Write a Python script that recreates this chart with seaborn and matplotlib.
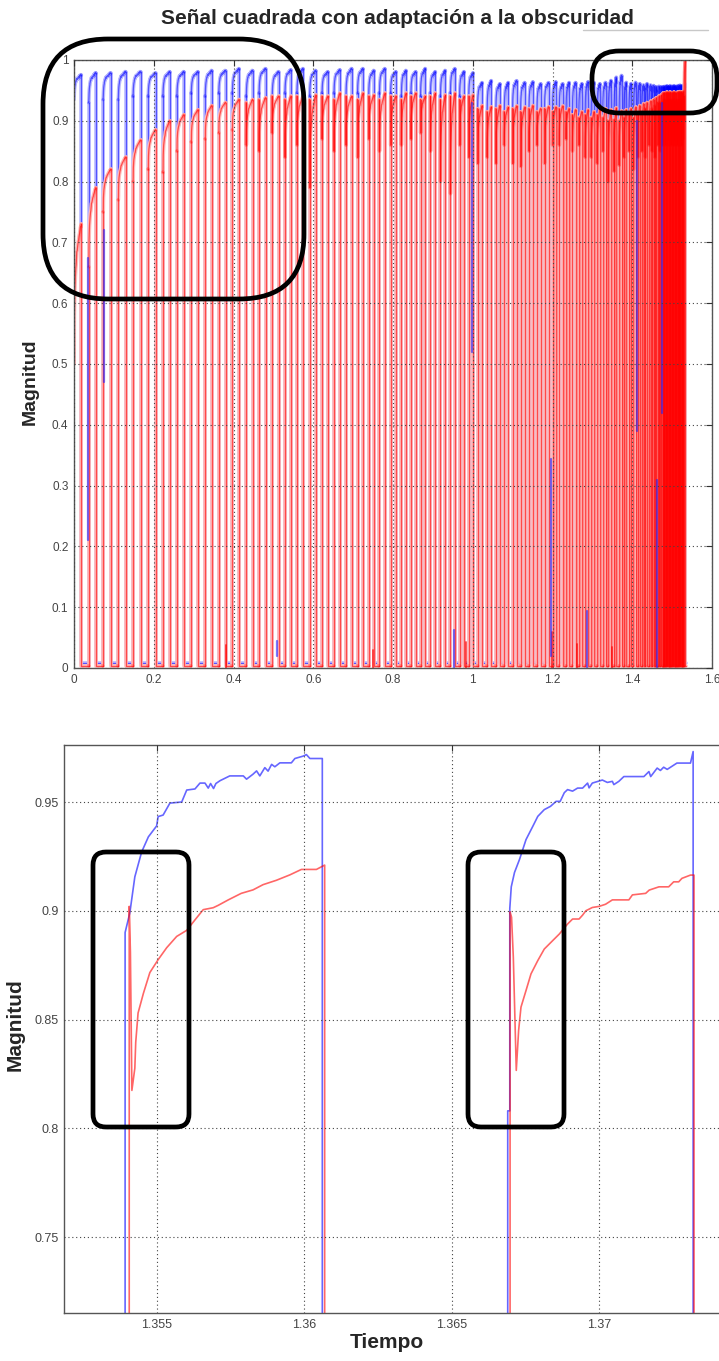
import numpy as np
import pandas as pd
import matplotlib
matplotlib.use("Agg")
import matplotlib.pyplot as plt
import seaborn as sns
from matplotlib.patches import FancyBboxPatch
from matplotlib.lines import Line2D

# ===================== DATOS =====================
# ---- Panel superior: un registro por pulso de la señal cuadrada ----
inicio_pulsos = [
    0.000, 0.037, 0.073, 0.111, 0.148, 0.186, 0.223, 0.258, 0.294, 0.329, 0.363, 0.397,
    0.432, 0.464, 0.497, 0.529, 0.559, 0.591, 0.622, 0.652, 0.682, 0.711, 0.739, 0.766, 0.794,
    0.821, 0.845, 0.869, 0.894, 0.919, 0.944, 0.967, 0.990, 1.012, 1.036, 1.058, 1.079, 1.100,
    1.120, 1.141, 1.161, 1.180, 1.200, 1.217, 1.234,
    1.250, 1.266, 1.282, 1.297, 1.312, 1.326, 1.340, 1.354, 1.367, 1.3795, 1.3915, 1.403,
    1.414, 1.424, 1.433, 1.442, 1.450, 1.457, 1.464, 1.470,
    1.476, 1.479, 1.482, 1.485, 1.488, 1.491, 1.494, 1.497, 1.500, 1.503, 1.506, 1.509,
    1.512, 1.515, 1.518, 1.521, 1.524, 1.527, 1.530]
fin_senal = 1.5355
ciclo_util = 0.5
nivel_bajo_azul = 0.008
nivel_bajo_rojo = 0.004

azul_inicio = [
    0.935, 0.93, 0.935, 0.935, 0.94, 0.94, 0.94, 0.94, 0.945, 0.94, 0.945, 0.945,
    0.94, 0.945, 0.94, 0.945, 0.945, 0.94, 0.945, 0.945, 0.94, 0.945, 0.94, 0.945, 0.945,
    0.94, 0.945, 0.94, 0.945, 0.94, 0.945, 0.94, 0.94, 0.92, 0.915, 0.92, 0.915, 0.92,
    0.915, 0.92, 0.915, 0.92, 0.915, 0.92, 0.915,
    0.915, 0.91, 0.915, 0.91, 0.915, 0.91, 0.905, 0.89, 0.90, 0.905, 0.91, 0.905,
    0.91, 0.905, 0.91, 0.905, 0.91, 0.905, 0.91, 0.905,
    0.92, 0.925, 0.92, 0.925, 0.92, 0.925, 0.92, 0.925, 0.92, 0.925, 0.92, 0.925,
    0.92, 0.925, 0.92, 0.925, 0.92, 0.925, 0.93]
azul_final = [
    0.975, 0.978, 0.978, 0.98, 0.98, 0.978, 0.98, 0.98, 0.98, 0.982, 0.982, 0.985,
    0.982, 0.985, 0.98, 0.983, 0.985, 0.982, 0.98, 0.983, 0.985, 0.985, 0.982, 0.985, 0.98,
    0.982, 0.98, 0.985, 0.98, 0.982, 0.985, 0.98, 0.978, 0.962, 0.965, 0.96, 0.962, 0.965,
    0.962, 0.963, 0.96, 0.962, 0.963, 0.96, 0.962,
    0.962, 0.96, 0.963, 0.962, 0.96, 0.962, 0.965, 0.970, 0.973, 0.962, 0.96, 0.962,
    0.96, 0.958, 0.96, 0.958, 0.957, 0.955, 0.956, 0.955,
    0.955, 0.956, 0.955, 0.957, 0.955, 0.956, 0.957, 0.955, 0.956, 0.957, 0.956, 0.955,
    0.957, 0.956, 0.958, 0.957, 0.956, 0.958, 0.96]
rojo_pico = [
    0.50, 0.66, 0.75, 0.77, 0.80, 0.82, 0.815, 0.85, 0.865, 0.87, 0.88, 0.885,
    0.93, 0.935, 0.94, 0.935, 0.94, 0.935, 0.94, 0.935, 0.94, 0.935, 0.94, 0.935, 0.94,
    0.935, 0.94, 0.935, 0.94, 0.935, 0.94, 0.935, 0.94, 0.92, 0.915, 0.92, 0.915, 0.92,
    0.915, 0.92, 0.915, 0.92, 0.915, 0.92, 0.915,
    0.91, 0.905, 0.91, 0.905, 0.91, 0.905, 0.90, 0.902, 0.90, 0.905, 0.91, 0.905,
    0.91, 0.915, 0.92, 0.915, 0.92, 0.925, 0.93, 0.93,
    0.93, 0.935, 0.93, 0.935, 0.93, 0.935, 0.93, 0.935, 0.93, 0.935, 0.93, 0.935,
    0.93, 0.935, 0.93, 0.935, 0.93, 0.935, 0.94]
rojo_min = [
    0.50, 0.66, 0.75, 0.77, 0.80, 0.82, 0.815, 0.85, 0.865, 0.87, 0.88, 0.885,
    0.86, 0.85, 0.88, 0.84, 0.86, 0.79, 0.87, 0.85, 0.86, 0.84, 0.87, 0.85, 0.86,
    0.86, 0.87, 0.88, 0.85, 0.80, 0.78, 0.86, 0.84, 0.83, 0.84, 0.83, 0.86, 0.83,
    0.825, 0.85, 0.86, 0.83, 0.86, 0.86, 0.87,
    0.85, 0.86, 0.84, 0.84, 0.83, 0.85, 0.80, 0.817, 0.827, 0.84, 0.85, 0.82,
    0.84, 0.85, 0.84, 0.86, 0.85, 0.84, 0.86, 0.85,
    0.86, 0.87, 0.86, 0.87, 0.86, 0.87, 0.86, 0.87, 0.86, 0.87, 0.86, 0.87,
    0.86, 0.87, 0.86, 0.87, 0.86, 0.87, 0.90]
rojo_final = [
    0.73, 0.79, 0.82, 0.84, 0.868, 0.885, 0.90, 0.91, 0.918, 0.925, 0.93, 0.935,
    0.935, 0.938, 0.94, 0.94, 0.94, 0.942, 0.94, 0.945, 0.94, 0.945, 0.942, 0.945, 0.94,
    0.945, 0.945, 0.94, 0.945, 0.942, 0.945, 0.94, 0.942, 0.925, 0.923, 0.925, 0.922, 0.924,
    0.922, 0.925, 0.92, 0.923, 0.922, 0.924, 0.92,
    0.918, 0.915, 0.918, 0.915, 0.918, 0.92, 0.918, 0.921, 0.916, 0.918, 0.92, 0.922,
    0.925, 0.928, 0.93, 0.932, 0.935, 0.938, 0.94, 0.942,
    0.945, 0.946, 0.945, 0.947, 0.945, 0.946, 0.947, 0.945, 0.946, 0.947, 0.946, 0.945,
    0.947, 0.946, 0.948, 0.947, 0.946, 0.948, 1.0]

# Trazos espurios (t, mínimo, máximo)
espuria_azul_t = [0.035, 0.074, 0.509, 0.952, 0.999, 1.195, 1.287, 1.411, 1.463, 1.475]
espuria_azul_min = [0.21, 0.47, 0.02, 0.0, 0.52, 0.02, 0.0, 0.39, 0.0, 0.42]
espuria_azul_max = [0.675, 0.72, 0.045, 0.062, 0.93, 0.344, 0.093, 0.90, 0.31, 0.93]
espuria_rojo_t = [0.380, 0.749, 0.983, 1.199, 1.262, 1.348]
espuria_rojo_min = [0.0, 0.0, 0.0, 0.0, 0.0, 0.0]
espuria_rojo_max = [0.038, 0.030, 0.043, 0.060, 0.040, 0.035]

# ---- Panel inferior: detalle de dos pulsos ----
tA_azul = [1.35392, 1.35408, 1.35425, 1.35448, 1.35471, 1.35499, 1.35504, 1.35521, 1.35544,
           1.35584, 1.35601, 1.35629, 1.35646, 1.35663, 1.35674, 1.35682, 1.35692, 1.35700,
           1.35714, 1.35747, 1.35793, 1.35804, 1.35826, 1.35838, 1.35849, 1.35866, 1.35877,
           1.35889, 1.35900, 1.35917, 1.35956, 1.35968, 1.35996, 1.36007, 1.36019, 1.36061]
yA_azul = [0.890, 0.899, 0.9156, 0.927, 0.934, 0.939, 0.9433, 0.944, 0.9495,
           0.950, 0.9555, 0.956, 0.9587, 0.9587, 0.9564, 0.9585, 0.9562, 0.9585,
           0.9598, 0.962, 0.962, 0.9605, 0.9628, 0.9643, 0.9620, 0.9658, 0.9642,
           0.9673, 0.9662, 0.968, 0.968, 0.970, 0.9711, 0.9718, 0.970, 0.970]
tA_rojo = [1.35406, 1.35410, 1.35415, 1.35425, 1.35428, 1.35436, 1.35454, 1.35476, 1.35504,
           1.35533, 1.35567, 1.35601, 1.35629, 1.35657, 1.35691, 1.35708, 1.35742, 1.35786,
           1.35826, 1.35860, 1.35905, 1.35951, 1.35990, 1.36041, 1.36069]
yA_rojo = [0.902, 0.881, 0.8174, 0.8276, 0.8395, 0.853, 0.862, 0.8716, 0.8775,
           0.883, 0.8882, 0.891, 0.8958, 0.9005, 0.9014, 0.9025, 0.905, 0.908,
           0.9096, 0.912, 0.914, 0.9165, 0.919, 0.919, 0.921]
tB_azul = [1.36690, 1.36697, 1.36697, 1.36702, 1.36713, 1.36730, 1.36752, 1.36775, 1.36792,
           1.36814, 1.36835, 1.36854, 1.36868, 1.36882, 1.36893, 1.36910, 1.36927, 1.36944,
           1.36961, 1.36966, 1.36977, 1.37011, 1.37028, 1.37045, 1.37050, 1.37067, 1.37084,
           1.37118, 1.37152, 1.37169, 1.37175, 1.37197, 1.37208, 1.37219, 1.37231, 1.37264,
           1.37310, 1.37319]
yB_azul = [0.808, 0.808, 0.901, 0.911, 0.9176, 0.9236, 0.9327, 0.9388, 0.9434,
           0.9465, 0.948, 0.9503, 0.9503, 0.9543, 0.9557, 0.955, 0.9564, 0.9564,
           0.9587, 0.9565, 0.9587, 0.9601, 0.9590, 0.9595, 0.958, 0.9595, 0.9617,
           0.9617, 0.9617, 0.964, 0.9617, 0.9656, 0.9645, 0.9660, 0.9650, 0.9679,
           0.9679, 0.9732]
tB_rojo = [1.36698, 1.36703, 1.36709, 1.36719, 1.36727, 1.36735, 1.36752, 1.36769, 1.36792,
           1.36814, 1.36842, 1.36865, 1.36893, 1.36910, 1.36932, 1.36944, 1.36955, 1.36977,
           1.37000, 1.37022, 1.37045, 1.37101, 1.37113, 1.37158, 1.37170, 1.37203, 1.37236,
           1.37253, 1.37270, 1.37281, 1.37310, 1.37322]
yB_rojo = [0.8995, 0.897, 0.8786, 0.8266, 0.845, 0.8557, 0.8633, 0.871, 0.8771,
           0.8824, 0.8862, 0.8893, 0.8939, 0.8962, 0.8962, 0.898, 0.900, 0.9015,
           0.902, 0.903, 0.905, 0.905, 0.9073, 0.908, 0.9095, 0.911, 0.911,
           0.9133, 0.9133, 0.9149, 0.9164, 0.9164]

xticks_sup = [0, 0.2, 0.4, 0.6, 0.8, 1.0, 1.2, 1.4, 1.6]
xlabels_sup = ["0", "0.2", "0.4", "0.6", "0.8", "1", "1.2", "1.4", "1.6"]
yticks_sup = [0, 0.1, 0.2, 0.3, 0.4, 0.5, 0.6, 0.7, 0.8, 0.9, 1.0]
ylabels_sup = ["0", "0.1", "0.2", "0.3", "0.4", "0.5", "0.6", "0.7", "0.8", "0.9", "1"]
xticks_inf = [1.355, 1.36, 1.365, 1.37]
xlabels_inf = ["1.355", "1.36", "1.365", "1.37"]
yticks_inf = [0.75, 0.8, 0.85, 0.9, 0.95]
ylabels_inf = ["0.75", "0.8", "0.85", "0.9", "0.95"]

titulo = "Señal cuadrada con adaptación a la obscuridad"

# ===================== CONSTRUCCIÓN =====================
# forma normalizada de la adaptación, tomada del pulso ampliado (panel inferior)
ta, ya = np.array(tA_azul), np.array(yA_azul)
u_azul = (ta - ta[0]) / (ta[-1] - ta[0])
v_azul = (ya - ya[0]) / (ya[-1] - ya[0])
tr, yr = np.array(tA_rojo[2:]), np.array(yA_rojo[2:])
u_rojo = (tr - tr[0]) / (tr[-1] - tr[0])
v_rojo = (yr - yr[0]) / (yr[-1] - yr[0])

filas = []
def agregar(senal, tramo, ts, ys):
    for t, y in zip(ts, ys):
        filas.append((senal, tramo, float(t), float(y)))

n = len(inicio_pulsos)
for i in range(n):
    t_on = inicio_pulsos[i]
    t_sig = inicio_pulsos[i + 1] if i + 1 < n else fin_senal
    w = ciclo_util * (t_sig - t_on)
    t_off = t_on + w
    # azul
    tb = t_on + u_azul * w
    yb = azul_inicio[i] + v_azul * (azul_final[i] - azul_inicio[i])
    if i > 0:
        agregar("azul", f"a{i}s", [t_on, t_on], [nivel_bajo_azul, yb[0]])
    agregar("azul", f"a{i}c", tb, yb)
    agregar("azul", f"a{i}b", [t_off, t_off, t_sig], [yb[-1], nivel_bajo_azul, nivel_bajo_azul])
    # rojo
    t_dip = t_on + 0.015 * w
    trr = t_dip + u_rojo * (t_off - t_dip)
    yrr = rojo_min[i] + v_rojo * (rojo_final[i] - rojo_min[i])
    if i > 0:
        agregar("rojo", f"r{i}s", [t_on, t_on], [nivel_bajo_rojo, rojo_pico[i]])
    agregar("rojo", f"r{i}c", np.r_[t_on, trr], np.r_[rojo_pico[i], yrr])
    agregar("rojo", f"r{i}b", [t_off, t_off, t_sig], [yrr[-1], nivel_bajo_rojo, nivel_bajo_rojo])

sup = pd.DataFrame(filas, columns=["senal", "tramo", "tiempo", "magnitud"])

esp = []
for k, (t, a, b) in enumerate(zip(espuria_azul_t, espuria_azul_min, espuria_azul_max)):
    esp += [("azul", f"ea{k}", t, a), ("azul", f"ea{k}", t, b)]
for k, (t, a, b) in enumerate(zip(espuria_rojo_t, espuria_rojo_min, espuria_rojo_max)):
    esp += [("rojo", f"er{k}", t, a), ("rojo", f"er{k}", t, b)]
esp = pd.DataFrame(esp, columns=["senal", "tramo", "tiempo", "magnitud"])

filas = []
for nom, ts, ys, sen in [("Aa", tA_azul, yA_azul, "azul"), ("Ar", tA_rojo, yA_rojo, "rojo"),
                         ("Ba", tB_azul, yB_azul, "azul"), ("Br", tB_rojo, yB_rojo, "rojo")]:
    low = nivel_bajo_azul if sen == "azul" else nivel_bajo_rojo
    agregar(sen, nom, [ts[0]] + list(ts) + [ts[-1]], [low] + list(ys) + [low])
inf = pd.DataFrame(filas, columns=["senal", "tramo", "tiempo", "magnitud"])

# ===================== FIGURA =====================
sns.set_style("white")
plt.rcParams["font.family"] = ["Liberation Sans", "DejaVu Sans"]

W, H = 719, 1361
fig = plt.figure(figsize=(W / 100, H / 100), dpi=100)
ax1 = fig.add_axes([74 / W, 1 - 668 / H, 638 / W, 608 / H])
ax2 = fig.add_axes([64 / W, 1 - 1313 / H, 661 / W, 568 / H])

AZUL, ROJO = "#0000ff", "#ff0000"
kw = dict(x="tiempo", y="magnitud", units="tramo", estimator=None, sort=False, legend=False)

azul_sup = sup[sup.senal == "azul"]
rojo_sup = sup[sup.senal == "rojo"]
# halo ancho + trazo fino (aspecto difuminado del original)
sns.lineplot(data=azul_sup, ax=ax1, color=AZUL, alpha=0.28, linewidth=2.6, **kw)
sns.lineplot(data=azul_sup, ax=ax1, color=AZUL, alpha=0.55, linewidth=0.9, **kw)
sns.lineplot(data=rojo_sup, ax=ax1, color="white", alpha=1.0, linewidth=2.6, **kw)
sns.lineplot(data=rojo_sup, ax=ax1, color=ROJO, alpha=0.28, linewidth=2.6, **kw)
sns.lineplot(data=rojo_sup, ax=ax1, color=ROJO, alpha=0.6, linewidth=0.9, **kw)
sns.lineplot(data=esp[esp.senal == "rojo"], ax=ax1, color=ROJO, alpha=0.7, linewidth=1.3, **kw)
sns.lineplot(data=esp[esp.senal == "azul"], ax=ax1, color="#2020ff", alpha=0.6, linewidth=1.6, **kw)

sns.lineplot(data=inf[inf.senal == "azul"], ax=ax2, color=AZUL, alpha=0.6, linewidth=1.2, **kw)
sns.lineplot(data=inf[inf.senal == "rojo"], ax=ax2, color=ROJO, alpha=0.6, linewidth=1.2, **kw)

for ax in (ax1, ax2):
    ax.set_xlabel("")
    ax.set_ylabel("")
    ax.set_axisbelow(False)
    ax.grid(True, linestyle=(0, (1, 2.5)), color="#444444", linewidth=0.8)
    ax.tick_params(direction="in", top=True, right=True, length=4, width=0.8,
                   color="#333333", labelcolor="#444444", labelsize=8.5, pad=4)
    for s in ax.spines.values():
        s.set_color("#555555")
        s.set_linewidth(1.0)

ax1.set_xlim(0, 1.6)
ax1.set_ylim(0, 1)
ax1.set_xticks(xticks_sup, xlabels_sup)
ax1.set_yticks(yticks_sup, ylabels_sup)

ax2.set_xlim(1.351847, 1.374271)
ax2.set_ylim(0.71506, 0.97621)
ax2.set_xticks(xticks_inf, xlabels_inf)
ax2.set_yticks(yticks_inf, ylabels_inf)
ax2.tick_params(labelsize=9)

fig.text(397 / W, 1 - 18 / H, titulo, ha="center", va="center", fontsize=15, fontweight="bold")
fig.text(30 / W, 1 - 382 / H, "Magnitud", rotation=90, ha="center", va="center",
         fontsize=14, fontweight="bold")
fig.text(15 / W, 1 - 1025 / H, "Magnitud", rotation=90, ha="center", va="center",
         fontsize=15, fontweight="bold")
fig.text(387 / W, 1 - 1343 / H, "Tiempo", ha="center", va="center", fontsize=15, fontweight="bold")

# capa de anotaciones en píxeles
ov = fig.add_axes([0, 0, 1, 1], zorder=10)
ov.set_xlim(0, W)
ov.set_ylim(H, 0)
ov.axis("off")
ov.patch.set_alpha(0)
ov.add_line(Line2D([583, 708], [30, 30], color="#c8c8c8", lw=1))
for (x0, y0, x1, y1, r) in [(43, 39, 304, 299, 65), (592, 51, 717, 113, 27),
                            (93, 852, 189, 1127, 13), (468, 852, 564, 1127, 13)]:
    ov.add_patch(FancyBboxPatch((x0, y0), x1 - x0, y1 - y0,
                                boxstyle=f"round,pad=0,rounding_size={r}",
                                fill=False, ec="black", lw=3.4))

fig.savefig("out.png", dpi=100)
